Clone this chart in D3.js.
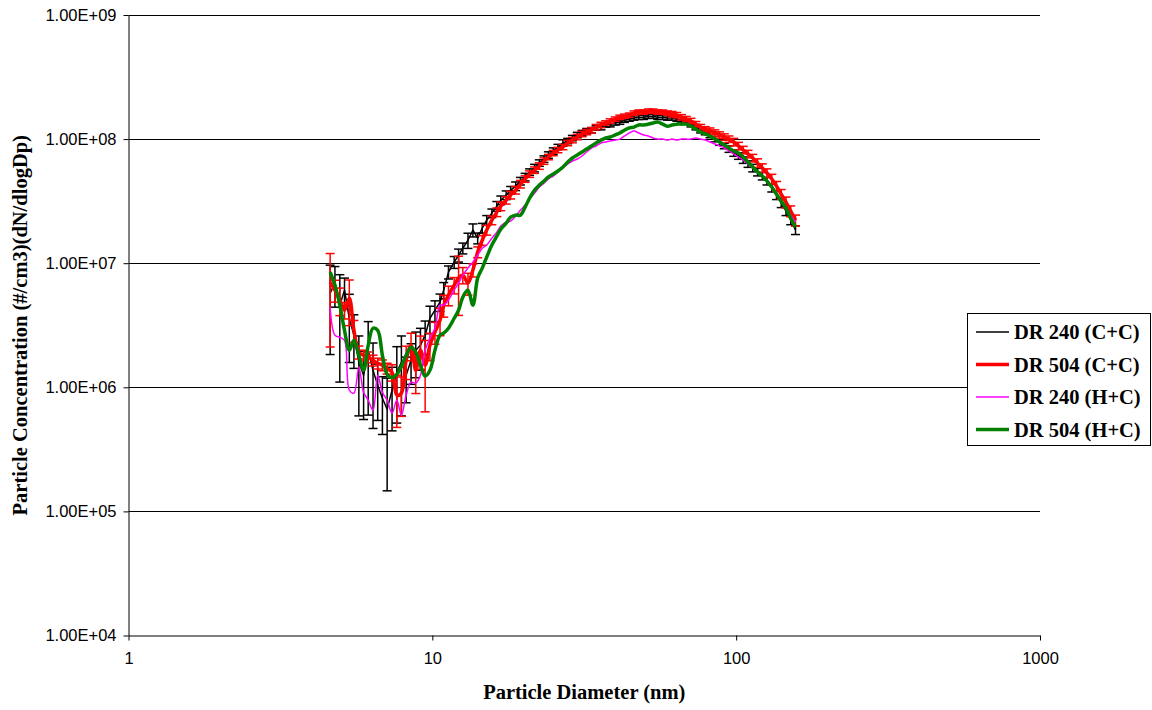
<!DOCTYPE html>
<html>
<head>
<meta charset="utf-8">
<script src="https://cdn.jsdelivr.net/npm/d3@7"></script>
<style>
  html, body { margin: 0; padding: 0; background: #fff; }
  svg { display: block; }
</style>
</head>
<body>
<svg id="chart" width="1152" height="710"></svg>
<script>
// Particle size distribution: SMPS channel mid-point diameters (nm)
const diameters = [
  4.61, 4.78, 4.96, 5.14, 5.33, 5.52, 5.73, 5.94, 6.15, 6.38,
  6.61, 6.85, 7.10, 7.37, 7.64, 7.91, 8.20, 8.51, 8.82, 9.14,
  9.47, 9.82, 10.2, 10.6, 10.9, 11.3, 11.8, 12.2, 12.6, 13.1,
  13.6, 14.1, 14.6, 15.1, 15.7, 16.3, 16.8, 17.5, 18.1, 18.8,
  19.5, 20.2, 20.9, 21.7, 22.5, 23.3, 24.1, 25.0, 25.9, 26.9,
  27.9, 28.9, 30.0, 31.1, 32.2, 33.4, 34.6, 35.9, 37.2, 38.5,
  40.0, 41.4, 42.9, 44.5, 46.1, 47.8, 49.6, 51.4, 53.3, 55.2,
  57.3, 59.4, 61.5, 63.8, 66.1, 68.5, 71.0, 73.7, 76.4, 79.1,
  82.0, 85.1, 88.2, 91.4, 94.7, 98.2, 101.8, 105.5, 109.4, 113.4,
  117.6, 121.9, 126.3, 131.0, 135.8, 140.7, 145.9, 151.2, 156.8
];

// dN/dlogDp (#/cm3) for each run
const dr240CC = [
  5.74e6, 6.91e6, 4.59e6, 6.07e6, 3.60e6, 2.63e6, 1.59e6, 1.25e6, 1.99e6, 1.37e6,
  1.04e6, 8.17e5, 6.66e5, 9.48e5, 1.32e6, 1.59e6, 1.25e6, 1.65e6, 1.99e6, 2.18e6,
  2.63e6, 3.60e6, 4.18e6, 4.86e6, 6.07e6, 8.48e6, 1.02e7, 1.16e7, 1.32e7, 1.53e7,
  1.85e7, 1.59e7, 1.92e7, 2.22e7, 2.53e7, 2.88e7, 3.22e7, 3.54e7, 3.88e7, 4.18e7,
  4.59e7, 4.95e7, 5.43e7, 5.85e7, 6.42e7, 6.91e7, 7.45e7, 8.02e7, 8.64e7, 9.31e7,
  9.66e7, 1.02e8, 1.08e8, 1.12e8, 1.16e8, 1.18e8, 1.23e8, 1.25e8, 1.30e8, 1.32e8,
  1.35e8, 1.37e8, 1.42e8, 1.45e8, 1.48e8, 1.50e8, 1.50e8, 1.53e8, 1.53e8, 1.50e8,
  1.50e8, 1.48e8, 1.48e8, 1.45e8, 1.42e8, 1.37e8, 1.32e8, 1.25e8, 1.18e8, 1.14e8,
  1.08e8, 1.00e8, 9.48e7, 8.80e7, 8.32e7, 7.73e7, 7.31e7, 6.78e7, 6.30e7, 5.85e7,
  5.43e7, 5.04e7, 4.59e7, 4.03e7, 3.54e7, 3.05e7, 2.63e7, 2.22e7, 1.85e7
];
const dr504CC = [
  7.04e6, 6.07e6, 5.04e6, 4.18e6, 5.23e6, 2.88e6, 1.92e6, 1.81e6, 1.75e6, 1.65e6,
  1.56e6, 1.51e6, 1.42e6, 1.32e6, 8.64e5, 8.97e5, 1.65e6, 2.18e6, 1.37e6, 1.99e6,
  1.51e6, 2.18e6, 2.78e6, 3.47e6, 4.59e6, 5.53e6, 6.66e6, 7.59e6, 8.02e6, 6.91e6,
  8.80e6, 1.23e7, 1.53e7, 1.85e7, 2.22e7, 2.58e7, 2.88e7, 3.22e7, 3.54e7, 3.88e7,
  4.34e7, 4.77e7, 5.23e7, 5.63e7, 6.07e7, 6.66e7, 7.17e7, 7.73e7, 8.17e7, 8.64e7,
  9.31e7, 9.82e7, 1.04e8, 1.10e8, 1.14e8, 1.18e8, 1.25e8, 1.30e8, 1.35e8, 1.40e8,
  1.45e8, 1.50e8, 1.53e8, 1.56e8, 1.62e8, 1.65e8, 1.65e8, 1.68e8, 1.68e8, 1.65e8,
  1.65e8, 1.62e8, 1.59e8, 1.56e8, 1.50e8, 1.45e8, 1.40e8, 1.32e8, 1.25e8, 1.20e8,
  1.16e8, 1.12e8, 1.08e8, 1.04e8, 1.00e8, 9.48e7, 8.80e7, 8.17e7, 7.59e7, 7.04e7,
  6.42e7, 5.85e7, 5.33e7, 4.77e7, 4.18e7, 3.60e7, 3.10e7, 2.63e7, 2.22e7
];
const dr240HC = [
  4.42e6, 2.63e6, 2.53e6, 2.39e6, 9.48e5, 8.97e5, 1.45e6, 9.13e5, 7.87e5, 6.53e5,
  1.25e6, 9.13e5, 7.87e5, 6.18e5, 7.87e5, 5.96e5, 8.64e5, 1.10e6, 1.08e6, 1.25e6,
  1.99e6, 2.49e6, 2.99e6, 4.59e6, 4.59e6, 5.04e6, 6.07e6, 6.91e6, 8.02e6, 9.13e6,
  1.02e7, 1.16e7, 1.32e7, 1.40e7, 1.59e7, 1.78e7, 1.99e7, 2.14e7, 2.18e7, 2.39e7,
  2.68e7, 2.94e7, 3.29e7, 3.67e7, 4.11e7, 4.42e7, 4.77e7, 5.04e7, 5.43e7, 5.85e7,
  6.30e7, 6.66e7, 6.91e7, 7.31e7, 7.87e7, 8.48e7, 8.80e7, 9.31e7, 9.48e7, 9.66e7,
  9.82e7, 1.00e8, 1.06e8, 1.12e8, 1.16e8, 1.12e8, 1.08e8, 1.06e8, 1.02e8, 1.00e8,
  1.00e8, 9.82e7, 1.00e8, 9.82e7, 1.00e8, 1.00e8, 1.00e8, 1.02e8, 1.00e8, 9.82e7,
  9.48e7, 9.13e7, 8.80e7, 8.48e7, 8.02e7, 7.59e7, 7.17e7, 6.78e7, 6.30e7, 5.85e7,
  5.53e7, 5.13e7, 4.68e7, 4.18e7, 3.67e7, 3.22e7, 2.83e7, 2.44e7, 2.14e7
];
const dr504HC = [
  8.48e6, 6.66e6, 4.59e6, 2.88e6, 1.99e6, 2.39e6, 1.81e6, 1.37e6, 2.18e6, 2.99e6,
  2.88e6, 1.81e6, 1.27e6, 1.20e6, 1.27e6, 1.48e6, 1.81e6, 2.10e6, 1.92e6, 1.51e6,
  1.23e6, 1.37e6, 1.99e6, 2.63e6, 2.73e6, 2.99e6, 3.60e6, 4.18e6, 5.33e6, 6.07e6,
  4.59e6, 7.59e6, 9.13e6, 1.12e7, 1.40e7, 1.65e7, 1.88e7, 2.10e7, 2.35e7, 2.44e7,
  2.44e7, 2.83e7, 3.35e7, 3.88e7, 4.26e7, 4.59e7, 4.95e7, 5.23e7, 5.53e7, 5.96e7,
  6.53e7, 7.04e7, 7.45e7, 7.87e7, 8.32e7, 8.80e7, 9.31e7, 9.82e7, 1.02e8, 1.04e8,
  1.08e8, 1.12e8, 1.18e8, 1.23e8, 1.25e8, 1.30e8, 1.30e8, 1.32e8, 1.35e8, 1.37e8,
  1.32e8, 1.27e8, 1.30e8, 1.32e8, 1.32e8, 1.32e8, 1.27e8, 1.20e8, 1.14e8, 1.10e8,
  1.06e8, 1.00e8, 9.48e7, 8.97e7, 8.48e7, 8.02e7, 7.73e7, 7.17e7, 6.53e7, 5.96e7,
  5.43e7, 5.04e7, 4.59e7, 4.11e7, 3.60e7, 3.16e7, 2.78e7, 2.30e7, 1.95e7
];

// Standard deviation of the repeated scans, in percent of the mean
const dr240CCErrPct = [
  68, 36, 76, 25, 56, 46, 63, 56, 70, 66,
  48, 49, 78, 53, 61, 63, 40, 36, 40, 37,
  30, 25, 19, 16, 15, 12, 11, 12, 10, 14,
  12, 10, 9, 9, 8, 9, 8, 8, 7, 8,
  7, 7, 6, 7, 6, 6, 6, 6, 5, 6,
  5, 5, 5, 5, 5, 5, 4, 5, 4, 5,
  4, 4, 4, 4, 4, 4, 4, 4, 4, 4,
  4, 4, 4, 4, 5, 4, 5, 5, 5, 5,
  5, 5, 6, 5, 6, 6, 6, 6, 6, 7,
  7, 7, 7, 7, 8, 8, 8, 8, 8
];
const dr504CCErrPct = [
  70, 20, 25, 15, 40, 20, 12, 10, 10, 10,
  10, 10, 10, 15, 45, 35, 30, 25, 35, 30,
  58, 25, 20, 25, 20, 18, 15, 50, 15, 20,
  12, 10, 9, 9, 8, 8, 8, 7, 7, 7,
  7, 6, 6, 6, 6, 6, 5, 5, 5, 5,
  5, 5, 5, 5, 5, 5, 5, 5, 4, 4,
  4, 4, 4, 4, 4, 4, 4, 4, 4, 4,
  4, 4, 5, 5, 5, 5, 5, 5, 5, 5,
  6, 6, 6, 6, 6, 7, 7, 7, 7, 7,
  8, 8, 8, 9, 9, 9, 10, 10, 10
];

const seriesNames = ["DR 240 (C+C)", "DR 504 (C+C)", "DR 240 (H+C)", "DR 504 (H+C)"];
const yTickValues = [1e4, 1e5, 1e6, 1e7, 1e8, 1e9];
const yTickLabels = ["1.00E+04", "1.00E+05", "1.00E+06", "1.00E+07", "1.00E+08", "1.00E+09"];
const xTickValues = [1, 10, 100, 1000];
const xTickLabels = ["1", "10", "100", "1000"];

const series = [
  { name: seriesNames[0], values: dr240CC, err: dr240CCErrPct, color: "#000000", width: 1.5, curve: d3.curveLinear },
  { name: seriesNames[1], values: dr504CC, err: dr504CCErrPct, color: "#ff0000", width: 3.5, curve: d3.curveCatmullRom },
  { name: seriesNames[2], values: dr240HC, err: null, color: "#ff00ff", width: 1.5, curve: d3.curveCatmullRom },
  { name: seriesNames[3], values: dr504HC, err: null, color: "#008000", width: 3.5, curve: d3.curveCatmullRom }
];

const svg = d3.select("#chart");
const plot = { left: 128.5, right: 1040, top: 15, bottom: 635.5 };

const x = d3.scaleLog().domain([1, 1000]).range([plot.left, plot.right]);
const y = d3.scaleLog().domain([1e4, 1e9]).range([plot.bottom, plot.top]);

// horizontal gridlines at each decade
svg.append("g")
  .selectAll("line")
  .data(yTickValues.slice(1))
  .join("line")
  .attr("x1", plot.left).attr("x2", plot.right)
  .attr("y1", d => Math.round(y(d)) + 0.5).attr("y2", d => Math.round(y(d)) + 0.5)
  .attr("stroke", "#000").attr("stroke-width", 1);

// axes
const yAxis = d3.axisLeft(y)
  .tickValues(yTickValues)
  .tickFormat((d, i) => yTickLabels[i])
  .tickSizeInner(5).tickSizeOuter(0).tickPadding(7);
const gy = svg.append("g").attr("transform", `translate(${plot.left},0)`).call(yAxis);

const xAxis = d3.axisBottom(x)
  .tickValues(xTickValues)
  .tickFormat((d, i) => xTickLabels[i])
  .tickSizeInner(5).tickSizeOuter(0).tickPadding(12);
const gx = svg.append("g").attr("transform", `translate(0,${plot.bottom})`).call(xAxis);

[gx, gy].forEach(g => {
  g.selectAll("path.domain").attr("stroke", "#000").attr("stroke-width", 1);
  g.selectAll(".tick line").attr("stroke", "#000").attr("stroke-width", 1);
  g.selectAll("text")
    .attr("fill", "#000")
    .style("font-family", "'Liberation Sans', Arial, sans-serif")
    .style("font-size", "16.5px");
});

// data lines and error bars
const lineGen = (curve) => d3.line()
  .x((d, i) => x(diameters[i]))
  .y(d => y(d))
  .curve(curve);

const dataG = svg.append("g");
series.forEach(s => {
  const g = dataG.append("g");
  g.append("path")
    .datum(s.values)
    .attr("fill", "none")
    .attr("stroke", s.color)
    .attr("stroke-width", s.width)
    .attr("stroke-linejoin", "round")
    .attr("d", lineGen(s.curve));

  if (s.err) {
    const bars = s.values.map((v, i) => {
      const sd = v * s.err[i] / 100;
      return { x: x(diameters[i]), hi: y(v + sd), lo: y(Math.max(v - sd, 1e4)) };
    });
    const eb = g.append("g").attr("stroke", s.color).attr("stroke-width", 1.5);
    eb.selectAll("line.v").data(bars).join("line").attr("class", "v")
      .attr("x1", d => d.x).attr("x2", d => d.x)
      .attr("y1", d => d.hi).attr("y2", d => d.lo);
    eb.selectAll("line.t").data(bars).join("line").attr("class", "t")
      .attr("x1", d => d.x - 4.5).attr("x2", d => d.x + 4.5)
      .attr("y1", d => d.hi).attr("y2", d => d.hi);
    eb.selectAll("line.b").data(bars).join("line").attr("class", "b")
      .attr("x1", d => d.x - 4.5).attr("x2", d => d.x + 4.5)
      .attr("y1", d => d.lo).attr("y2", d => d.lo);
  }
});

// axis titles
svg.append("text")
  .attr("x", (plot.left + plot.right) / 2)
  .attr("y", 699)
  .attr("text-anchor", "middle")
  .style("font-family", "'Liberation Serif', 'Times New Roman', serif")
  .style("font-weight", "bold")
  .style("font-size", "20.5px")
  .text("Particle Diameter (nm)");

svg.append("text")
  .attr("transform", `translate(27,${(plot.top + plot.bottom) / 2}) rotate(-90)`)
  .attr("text-anchor", "middle")
  .style("font-family", "'Liberation Serif', 'Times New Roman', serif")
  .style("font-weight", "bold")
  .style("font-size", "20.5px")
  .text("Particle Concentration (#/cm3)(dN/dlogDp)");

// legend
const legend = svg.append("g");
legend.append("rect")
  .attr("x", 967.5).attr("y", 313.5)
  .attr("width", 183).attr("height", 132)
  .attr("fill", "#fff").attr("stroke", "#000").attr("stroke-width", 1);
const rowY = [332, 364.5, 397, 429.5];
series.forEach((s, i) => {
  legend.append("line")
    .attr("x1", 976).attr("x2", 1009)
    .attr("y1", rowY[i]).attr("y2", rowY[i])
    .attr("stroke", s.color).attr("stroke-width", s.width);
  legend.append("text")
    .attr("x", 1014).attr("y", rowY[i] + 7)
    .style("font-family", "'Liberation Serif', 'Times New Roman', serif")
    .style("font-weight", "bold")
    .style("font-size", "20.5px")
    .text(s.name);
});
</script>
</body>
</html>
